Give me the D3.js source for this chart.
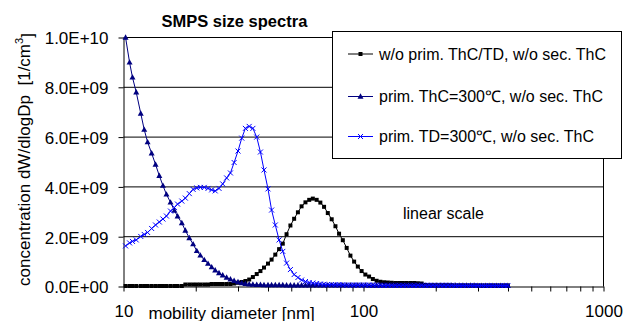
<!DOCTYPE html>
<html>
<head>
<meta charset="utf-8">
<script src="https://cdn.jsdelivr.net/npm/d3@7"></script>
<style>
  html, body { margin: 0; padding: 0; background: #fff; }
  svg { display: block; font-family: "Liberation Sans", Arial, sans-serif; }
  text { white-space: pre; }
</style>
</head>
<body>
<svg id="chart" width="631" height="321"></svg>
<script>
// SMPS channel midpoints (nm), 64 channels per decade
const diameters = [
  10.2, 10.6, 10.9, 11.3, 11.8, 12.2, 12.6, 13.1, 13.6, 14.1,
  14.6, 15.1, 15.7, 16.3, 16.8, 17.5, 18.1, 18.8, 19.5, 20.2,
  20.9, 21.7, 22.5, 23.3, 24.1, 25.0, 25.9, 26.9, 27.9, 28.9,
  30.0, 31.1, 32.2, 33.4, 34.6, 35.9, 37.2, 38.5, 40.0, 41.4,
  42.9, 44.5, 46.1, 47.8, 49.6, 51.4, 53.3, 55.2, 57.3, 59.4,
  61.5, 63.8, 66.1, 68.5, 71.0, 73.7, 76.4, 79.1, 82.0, 85.1,
  88.2, 91.4, 94.7, 98.2, 101.8, 105.5, 109.4, 113.4, 117.6, 121.9,
  126.3, 131.0, 135.8, 140.7, 145.9, 151.2, 156.8, 162.5, 168.5, 174.7,
  181.1, 187.7, 194.6, 201.7, 209.1, 216.7, 224.7, 232.9, 241.4, 250.3,
  259.5, 269.0, 278.8, 289.0, 299.6, 310.6, 322.0, 333.8, 346.0, 358.7,
  371.8, 385.4, 399.5
];

// dW/dlogDp in units of 1E+09 per cm³
const noThermal = [
  0.02, 0.02, 0.02, 0.02, 0.02, 0.02, 0.02, 0.02, 0.02, 0.02,
  0.02, 0.02, 0.02, 0.02, 0.02, 0.02, 0.08, 0.08, 0.08, 0.08,
  0.08, 0.08, 0.08, 0.10, 0.10, 0.10, 0.10, 0.10, 0.10, 0.12,
  0.15, 0.18, 0.22, 0.28, 0.38, 0.50, 0.62, 0.76, 0.92, 1.08,
  1.28, 1.50, 1.72, 2.10, 2.45, 2.72, 2.98, 3.22, 3.38, 3.48,
  3.53, 3.48, 3.37, 3.20, 2.95, 2.70, 2.42, 2.12, 1.86, 1.55,
  1.24, 1.00, 0.80, 0.62, 0.48, 0.40, 0.30, 0.23, 0.19, 0.17,
  0.16, 0.15, 0.14, 0.14, 0.14, 0.14, 0.14, 0.14, 0.13, 0.12,
  0.06, 0.05, 0.05, 0.05, 0.05, 0.05, 0.05, 0.05, 0.04, 0.04,
  0.04, 0.04, 0.04, 0.04, 0.04, 0.04, 0.04, 0.04, 0.04, 0.04,
  0.04, 0.04, 0.04
];

const primThC = [
  10.0, 9.00, 8.40, 7.80, 6.95, 6.30, 5.80, 5.35, 4.90, 4.45,
  4.05, 3.70, 3.38, 3.05, 2.82, 2.55, 2.25, 1.95, 1.70, 1.43,
  1.25, 1.07, 0.92, 0.78, 0.65, 0.54, 0.45, 0.36, 0.29, 0.23,
  0.18, 0.14, 0.11, 0.09, 0.08, 0.07, 0.07, 0.06, 0.06, 0.06,
  0.06, 0.06, 0.06, 0.05, 0.05, 0.05, 0.05, 0.05, 0.05, 0.05,
  0.05, 0.05, 0.05, 0.05, 0.05, 0.05, 0.05, 0.05, 0.05, 0.05,
  0.05, 0.05, 0.05, 0.05, 0.05, 0.04, 0.04, 0.04, 0.04, 0.04,
  0.04, 0.04, 0.04, 0.04, 0.04, 0.04, 0.04, 0.04, 0.04, 0.04,
  0.04, 0.04, 0.04, 0.04, 0.04, 0.04, 0.04, 0.04, 0.04, 0.04,
  0.04, 0.04, 0.04, 0.04, 0.03, 0.03, 0.03, 0.03, 0.03, 0.03,
  0.03, 0.03, 0.03
];

const primTD = [
  1.63, 1.75, 1.81, 1.87, 2.01, 2.09, 2.17, 2.33, 2.47, 2.59,
  2.71, 2.83, 3.03, 3.17, 3.31, 3.43, 3.55, 3.73, 3.90, 3.96,
  3.98, 3.98, 3.94, 3.88, 3.84, 3.94, 4.12, 4.36, 4.56, 4.98,
  5.44, 5.96, 6.35, 6.43, 6.35, 6.00, 5.40, 4.68, 3.92, 3.07,
  2.47, 1.87, 1.41, 0.94, 0.68, 0.48, 0.36, 0.26, 0.20, 0.16,
  0.14, 0.12, 0.10, 0.09, 0.08, 0.08, 0.07, 0.07, 0.07, 0.06,
  0.06, 0.06, 0.06, 0.06, 0.06, 0.06, 0.06, 0.06, 0.05, 0.05,
  0.05, 0.05, 0.05, 0.05, 0.05, 0.05, 0.05, 0.05, 0.05, 0.05,
  0.05, 0.05, 0.05, 0.05, 0.05, 0.05, 0.05, 0.05, 0.04, 0.04,
  0.04, 0.04, 0.04, 0.04, 0.04, 0.04, 0.04, 0.04, 0.04, 0.04,
  0.04, 0.04, 0.04
];

const seriesNames = [
  "w/o prim. ThC/TD, w/o sec. ThC",
  "prim. ThC=300\u2103, w/o sec. ThC",
  "prim. TD=300\u2103, w/o sec. ThC"
];
const yTickValues = [0, 2, 4, 6, 8, 10];
const xMinorTicks = [10, 20, 30, 40, 50, 60, 70, 80, 90, 100,
                     200, 300, 400, 500, 600, 700, 800, 900, 1000];
const xTickLabels = [10, 100, 1000];

const FONT = '"Liberation Sans", Arial, sans-serif';
const svg = d3.select("#chart");

const x = d3.scaleLog().domain([10, 1000]).range([123.5, 603.5]);
const y = d3.scaleLinear().domain([0, 10]).range([286.5, 37.5]);

// value in 1E+09 units -> "4.0E+09" style label
function sciLabel(v) {
  const val = v * 1e9;
  if (val === 0) return "0.0E+00";
  const e = Math.floor(Math.log10(val) + 1e-9);
  const m = val / Math.pow(10, e);
  return m.toFixed(1) + "E+" + String(e).padStart(2, "0");
}

// horizontal gridlines
svg.append("g")
  .selectAll("line")
  .data(yTickValues.filter(v => v > 0))
  .join("line")
  .attr("x1", x(10)).attr("x2", x(1000))
  .attr("y1", d => y(d)).attr("y2", d => y(d))
  .attr("stroke", "#000").attr("stroke-width", 1);

// right border of the plot area
svg.append("line")
  .attr("x1", x(1000)).attr("x2", x(1000))
  .attr("y1", y(10)).attr("y2", y(0))
  .attr("stroke", "#000");

// y axis
const yAxis = svg.append("g")
  .attr("transform", `translate(${x(10)},0)`)
  .call(d3.axisLeft(y).tickValues(yTickValues).tickSize(5).tickSizeOuter(0)
    .tickPadding(10).tickFormat(sciLabel));
yAxis.selectAll("text").attr("font-size", 17).attr("font-family", FONT).attr("fill", "#000").attr("dy", "0.38em");
yAxis.selectAll("line,path").attr("stroke", "#000");

// x axis
const xAxis = svg.append("g")
  .attr("transform", `translate(0,${y(0)})`)
  .call(d3.axisBottom(x).tickValues(xMinorTicks).tickSize(5).tickSizeOuter(0)
    .tickPadding(13.5).tickFormat(d => xTickLabels.includes(d) ? String(d) : ""));
xAxis.selectAll("text").attr("font-size", 17).attr("font-family", FONT).attr("fill", "#000");
xAxis.selectAll("line,path").attr("stroke", "#000");

// series
const series = [
  { name: seriesNames[0], values: noThermal, color: "#000000", marker: "square" },
  { name: seriesNames[1], values: primThC,   color: "#000080", marker: "triangle" },
  { name: seriesNames[2], values: primTD,    color: "#0000FF", marker: "cross" }
];

function drawMarker(g, type, color) {
  if (type === "square") {
    g.append("rect").attr("x", -2).attr("y", -2).attr("width", 4).attr("height", 4)
      .attr("fill", color);
  } else if (type === "triangle") {
    g.append("path").attr("d", "M0,-3.2L3,2.2L-3,2.2Z").attr("fill", color);
  } else {
    g.append("path").attr("d", "M-2.5,-2.5L2.5,2.5M-2.5,2.5L2.5,-2.5")
      .attr("stroke", color).attr("stroke-width", 1).attr("fill", "none");
  }
}

const line = d3.line().x(d => x(d[0])).y(d => y(d[1]));

series.forEach(s => {
  const pts = diameters.map((d, i) => [d, s.values[i]]);
  const g = svg.append("g");
  g.append("path").datum(pts).attr("d", line)
    .attr("fill", "none").attr("stroke", s.color).attr("stroke-width", 1);
  g.selectAll("g.m").data(pts).join("g").attr("class", "m")
    .attr("transform", d => `translate(${x(d[0])},${y(d[1])})`)
    .each(function () { drawMarker(d3.select(this), s.marker, s.color); });
});

// title
svg.append("text").attr("x", 161.5).attr("y", 26.5)
  .attr("font-size", 16.5).attr("font-weight", "bold").attr("font-family", FONT)
  .text("SMPS size spectra");

// y axis title
const yTitle = svg.append("text")
  .attr("transform", "translate(29.5,159.5) rotate(-90)")
  .attr("text-anchor", "middle").attr("font-size", 17).attr("font-family", FONT);
yTitle.append("tspan").text("concentration dW/dlogDp  [1/cm");
yTitle.append("tspan").attr("font-size", 11).attr("dy", "-0.6em").text("3");
yTitle.append("tspan").attr("dy", "0.6em").text("]");

// x axis title
svg.append("text").attr("x", 148.5).attr("y", 318.5)
  .attr("font-size", 17).attr("font-family", FONT)
  .text("mobility diameter [nm]");

// annotation
svg.append("text").attr("x", 403).attr("y", 219)
  .attr("font-size", 16).attr("font-family", FONT)
  .text("linear scale");

// legend
const legend = svg.append("g");
legend.append("rect").attr("x", 332.5).attr("y", 31.5).attr("width", 289).attr("height", 127)
  .attr("fill", "#fff").attr("stroke", "#000").attr("stroke-width", 1);
const rowY = [54, 96.5, 136.5];
series.forEach((s, i) => {
  const r = legend.append("g").attr("transform", `translate(0,${rowY[i]})`);
  r.append("line").attr("x1", 348).attr("x2", 373).attr("y1", 0).attr("y2", 0)
    .attr("stroke", s.color).attr("stroke-width", 1);
  drawMarker(r.append("g").attr("transform", "translate(360.5,0)"), s.marker, s.color);
  r.append("text").attr("x", 379).attr("y", 5.8)
    .attr("font-size", 16).attr("font-family", FONT).text(s.name);
});
</script>
</body>
</html>
